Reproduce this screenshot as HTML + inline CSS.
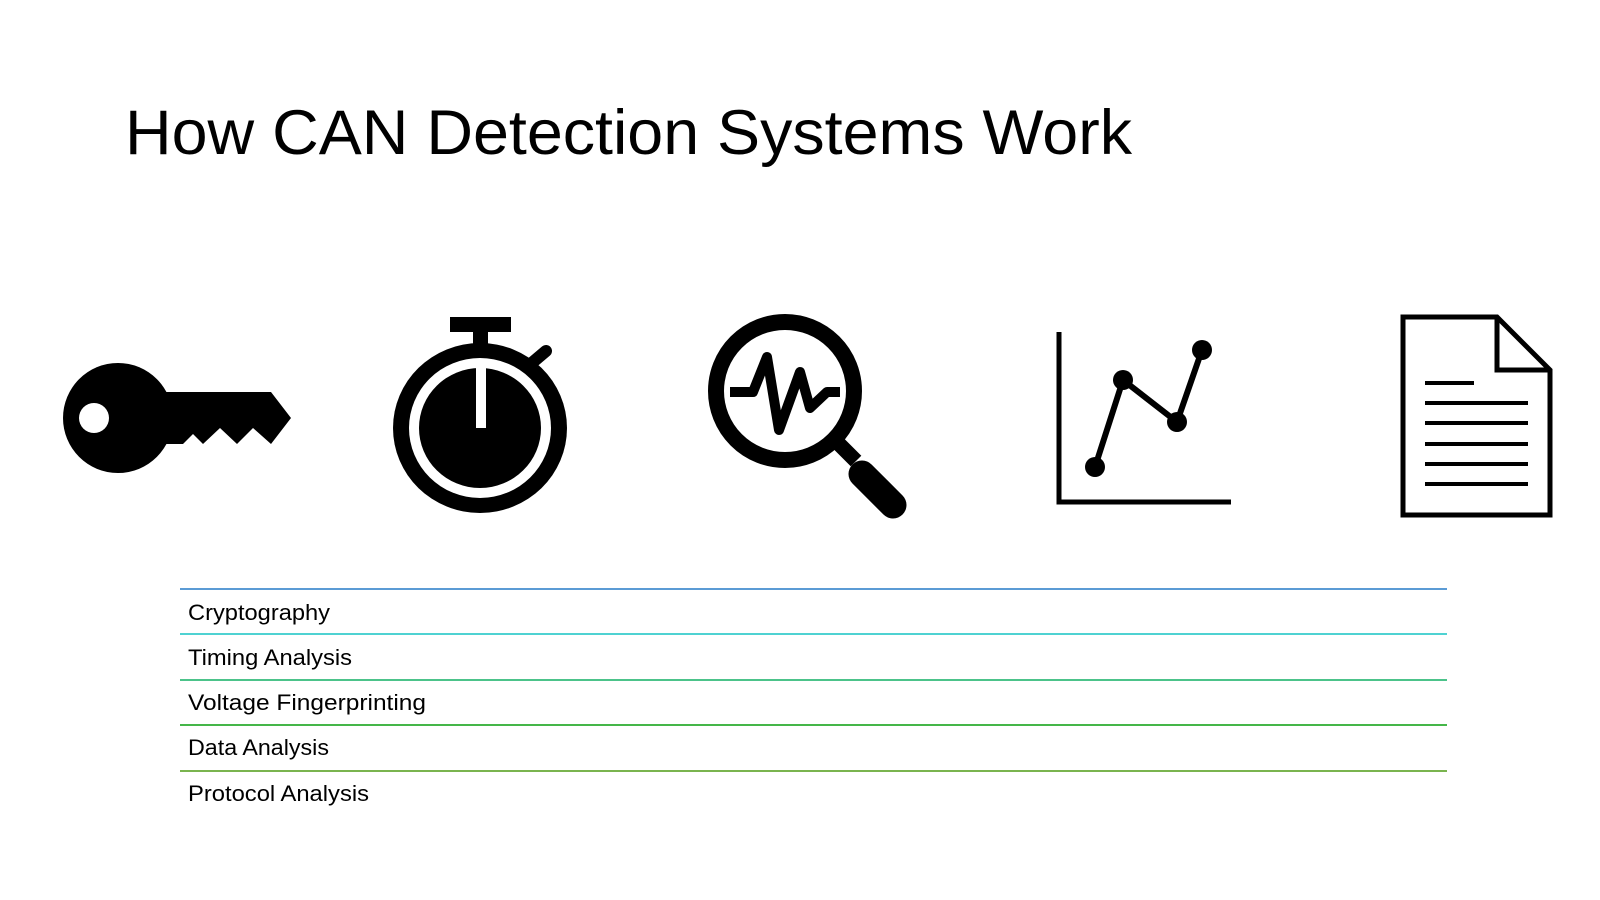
<!DOCTYPE html>
<html><head><meta charset="utf-8"><style>html,body{margin:0;padding:0;background:#fff}svg{display:block}</style></head>
<body>
<svg width="1600" height="900" viewBox="0 0 1600 900" xmlns="http://www.w3.org/2000/svg" font-family="'Liberation Sans', sans-serif">
<rect width="1600" height="900" fill="#fff"/>
<text x="125" y="154" font-size="63" fill="#000" textLength="1007" lengthAdjust="spacingAndGlyphs">How CAN Detection Systems Work</text>

<!-- key -->
<g fill="#000">
<circle cx="118" cy="418" r="55"/>
<polygon points="160,392 271,392 291,418 271,444 253,428 237,444 220,428 203,444 193,434 183,444 160,444"/>
<circle cx="94" cy="418" r="15" fill="#fff"/>
</g>

<!-- stopwatch -->
<g>
<rect x="450" y="317" width="61" height="15" fill="#000"/>
<rect x="473" y="330" width="15" height="16" fill="#000"/>
<line x1="533" y1="362" x2="546" y2="351" stroke="#000" stroke-width="12" stroke-linecap="round"/>
<ellipse cx="480" cy="428" rx="87" ry="85" fill="#000"/>
<ellipse cx="480" cy="428" rx="71" ry="70" fill="#fff"/>
<ellipse cx="480" cy="428" rx="61" ry="60" fill="#000"/>
<rect x="476" y="366" width="10" height="62" fill="#fff"/>
</g>

<!-- magnifier -->
<g>
<line x1="835" y1="440" x2="856" y2="461" stroke="#000" stroke-width="15"/>
<line x1="862" y1="474" x2="893" y2="505" stroke="#000" stroke-width="27" stroke-linecap="round"/>
<circle cx="785" cy="391" r="69" fill="none" stroke="#000" stroke-width="16"/>
<polyline points="730,392 753,392 767,357 779,430 800,372 810,408 827,392 840,392" fill="none" stroke="#000" stroke-width="10" stroke-linejoin="round"/>
</g>

<!-- chart -->
<g>
<polyline points="1059,332 1059,502 1231,502" fill="none" stroke="#000" stroke-width="5"/>
<polyline points="1095,467 1123,380 1177,422 1202,350" fill="none" stroke="#000" stroke-width="6"/>
<g fill="#000"><circle cx="1095" cy="467" r="10"/><circle cx="1123" cy="380" r="10"/><circle cx="1177" cy="422" r="10"/><circle cx="1202" cy="350" r="10"/></g>
</g>

<!-- document -->
<g fill="none" stroke="#000" stroke-width="5">
<polygon points="1403,317 1497,317 1550,370 1550,515 1403,515"/>
<polyline points="1497,317 1497,370 1550,370"/>
</g>
<g fill="#000">
<rect x="1425" y="381" width="49" height="4"/>
<rect x="1425" y="401" width="103" height="4"/>
<rect x="1425" y="421" width="103" height="4"/>
<rect x="1425" y="442" width="103" height="4"/>
<rect x="1425" y="462" width="103" height="4"/>
<rect x="1425" y="482" width="103" height="4"/>
</g>

<!-- list -->
<g stroke-width="2">
<line x1="180" y1="589" x2="1447" y2="589" stroke="#5b9bd5"/>
<line x1="180" y1="634" x2="1447" y2="634" stroke="#4fd2d2"/>
<line x1="180" y1="680" x2="1447" y2="680" stroke="#4cc38a"/>
<line x1="180" y1="725" x2="1447" y2="725" stroke="#45b649"/>
<line x1="180" y1="771" x2="1447" y2="771" stroke="#7ab44f"/>
</g>
<g font-size="22" fill="#000">
<text x="188" y="620" textLength="142" lengthAdjust="spacingAndGlyphs">Cryptography</text>
<text x="188" y="665" textLength="164" lengthAdjust="spacingAndGlyphs">Timing Analysis</text>
<text x="188" y="710" textLength="238" lengthAdjust="spacingAndGlyphs">Voltage Fingerprinting</text>
<text x="188" y="755" textLength="141" lengthAdjust="spacingAndGlyphs">Data Analysis</text>
<text x="188" y="801" textLength="181" lengthAdjust="spacingAndGlyphs">Protocol Analysis</text>
</g>
</svg>
</body></html>
